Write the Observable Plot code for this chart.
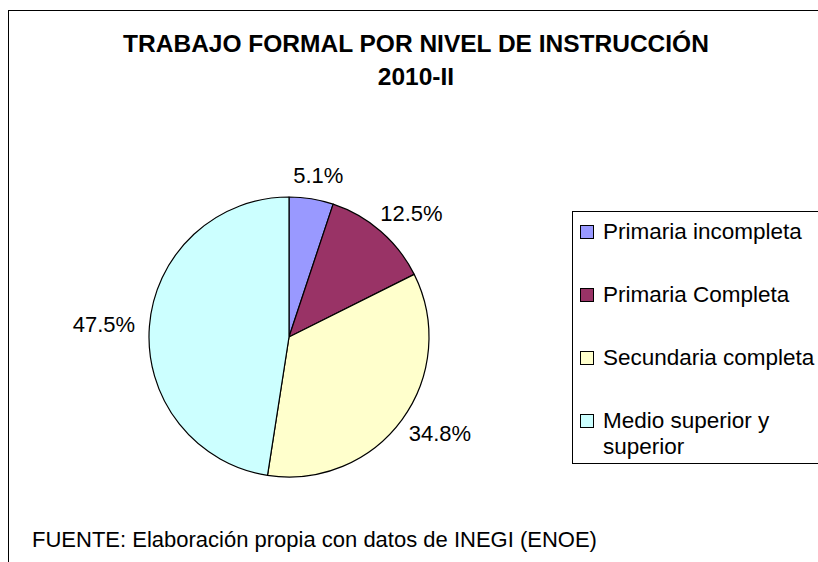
<!DOCTYPE html>
<html>
<head>
<meta charset="utf-8">
<script src="https://cdn.jsdelivr.net/npm/d3@7"></script>
<script src="https://cdn.jsdelivr.net/npm/@observablehq/plot@0.6"></script>
<style>
  html, body { margin: 0; padding: 0; background: #fff; }
  #root { position: relative; width: 818px; height: 562px; overflow: hidden; background: #fff;
          font-family: "Liberation Sans", Arial, Helvetica, sans-serif; color: #000; }
  #frame { position: absolute; left: 8px; top: 10px; width: 900px; height: 700px;
           border: 1px solid #000; box-sizing: border-box; }
  #title { position: absolute; left: 0; width: 832px; top: 27px; text-align: center;
           font-weight: bold; font-size: 24.5px; line-height: 33px; }
  #chart { position: absolute; left: 69px; top: 167px; }
  #legend { position: absolute; left: 572px; top: 211px; width: 300px; height: 253px;
            border: 1px solid #000; box-sizing: border-box; }
  .item { position: absolute; left: 0; font-size: 22.5px; line-height: 26px; padding-left: 30px; white-space: nowrap; }
  .sw { position: absolute; left: 7px; top: 6px; width: 14px; height: 14px; border: 1px solid #000; box-sizing: border-box; }
  #caption { position: absolute; left: 32px; top: 527px; font-size: 22px; white-space: nowrap; }
</style>
</head>
<body>
<div id="root">
  <div id="frame"></div>
  <div id="title">TRABAJO FORMAL POR NIVEL DE INSTRUCCIÓN<br>2010-II</div>
  <div id="chart"></div>
  <div id="legend"></div>
  <div id="caption">FUENTE: Elaboración propia con datos de INEGI (ENOE)</div>
</div>
<script>
// ---- data ----
const categories = ["Primaria incompleta", "Primaria Completa", "Secundaria completa", "Medio superior y superior"];
const legendLabels = ["Primaria incompleta", "Primaria Completa", "Secundaria completa", "Medio superior y<br>superior"];
const values = [5.1, 12.5, 34.8, 47.5];
const valueLabels = ["5.1%", "12.5%", "34.8%", "47.5%"];
const colors = ["#9999FF", "#993366", "#FFFFCC", "#CCFFFF"];

// ---- layout constants ----
const R = 140;           // pie radius in px
const W = 440, H = 340;  // svg size
const labelFont = "22px 'Liberation Sans', Arial, sans-serif";

const data = categories.map((c, i) => ({category: c, value: values[i], label: valueLabels[i], color: colors[i]}));
const arcs = d3.pie().sort(null).value(d => d.value)(data);

// measure label widths
const ctx = document.createElement("canvas").getContext("2d");
ctx.font = labelFont;
const labelData = arcs.map(a => {
  const t = (a.startAngle + a.endAngle) / 2;
  const s = Math.sin(t), c = Math.cos(t);
  const w = ctx.measureText(a.data.label).width;
  const gap = 15, hh = 9;
  return {
    label: a.data.label,
    lx: (s * (R + gap) + s * w / 2) / R,
    ly: (c * (R + gap) + c * hh) / R
  };
});

const pieMark = (index, scales) => {
  const cx = scales.x(0), cy = scales.y(0);
  const r = Math.abs(scales.x(1) - scales.x(0));
  const arc = d3.arc().innerRadius(0).outerRadius(r);
  const g = d3.create("svg:g").attr("transform", `translate(${cx},${cy})`);
  g.selectAll("path").data(arcs).join("path")
    .attr("d", arc)
    .attr("fill", d => d.data.color)
    .attr("stroke", "#000")
    .attr("stroke-width", 1.2)
    .attr("stroke-linejoin", "round");
  return g.node();
};

const plot = Plot.plot({
  width: W, height: H,
  margin: 0,
  x: {domain: [-W / 2 / R, W / 2 / R], axis: null},
  y: {domain: [-H / 2 / R, H / 2 / R], axis: null},
  style: {background: "transparent", overflow: "visible", fontFamily: "'Liberation Sans', Arial, sans-serif"},
  marks: [
    pieMark,
    Plot.text(labelData, {x: "lx", y: "ly", text: "label", fontSize: 22, fill: "#000"})
  ]
});
document.getElementById("chart").appendChild(plot);

// legend
const legend = document.getElementById("legend");
const firstTop = 7, rowStep = 63;
categories.forEach((c, i) => {
  const item = document.createElement("div");
  item.className = "item";
  item.style.top = (firstTop + rowStep * i) + "px";
  item.innerHTML = `<span class="sw" style="background:${colors[i]}"></span>${legendLabels[i]}`;
  legend.appendChild(item);
});
</script>
</body>
</html>
